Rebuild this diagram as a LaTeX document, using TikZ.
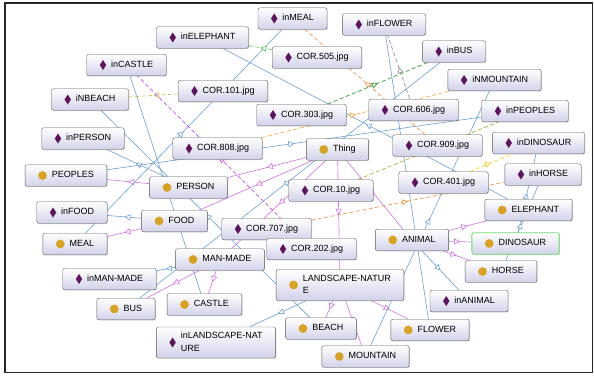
\documentclass[tikz,border=0pt]{standalone}
\usepackage{fontspec}
\setmainfont{Liberation Sans}
\usepackage{tikz}
\usetikzlibrary{arrows.meta,shadows,decorations.markings,backgrounds}

\definecolor{indcol}{RGB}{92,22,92}
\definecolor{clscol}{RGB}{215,162,40}
\definecolor{boxfill}{RGB}{210,210,234}
\definecolor{subcol}{RGB}{208,112,228}
\definecolor{instcol}{RGB}{108,160,208}
\definecolor{hlcol}{RGB}{110,220,110}
\definecolor{olivecol}{RGB}{200,190,100}
\definecolor{darkolive}{RGB}{175,170,60}
\definecolor{lgreencol}{RGB}{100,200,90}
\definecolor{greencol}{RGB}{50,150,50}
\definecolor{orangecol}{RGB}{235,150,80}
\definecolor{lorangecol}{RGB}{250,170,70}
\definecolor{graycol}{RGB}{150,150,150}
\definecolor{yellowcol}{RGB}{250,210,50}
\definecolor{violetcol}{RGB}{190,80,230}

\newcommand{\indicon}{\tikz[baseline=-2.3pt,sharp corners]\fill[indcol] (0pt,5pt)--(3.2pt,0pt)--(0pt,-5pt)--(-3.2pt,0pt)--cycle;}
\newcommand{\clsicon}{\tikz[baseline=-2.3pt,sharp corners]\fill[clscol] (0pt,0pt) circle (4.4pt);}
\newcommand{\ind}[1]{\indicon\hspace{5pt}#1}
\newcommand{\cls}[1]{\clsicon\hspace{5pt}#1}
\newcommand{\twolines}[2]{\begin{tabular}{@{}l@{}}#1\\#2\end{tabular}}

\begin{document}
\begin{tikzpicture}[x=1pt,y=-1pt]
\tikzset{box/.style = {draw=black!65, rounded corners=2pt, top color=white, bottom color=boxfill, minimum height=21.5pt, inner xsep=13pt, inner ysep=3pt, font=\fontsize{9}{12.5}\selectfont, drop shadow={shadow xshift=0.8pt, shadow yshift=-0.8pt, opacity=0.3}}}
\tikzset{midtip/.style = {postaction={decorate}, decoration={markings, mark=at position 0.5 with {\arrow{Triangle[length=6pt,width=6pt,fill=white]}}}}}
\tikzset{subcls/.style = {draw=subcol, line width=0.6pt, midtip}}
\tikzset{inst/.style = {draw=instcol, line width=0.6pt, midtip}}
\tikzset{prop/.style = {draw=#1, dash pattern=on 4pt off 2.5pt, line width=0.7pt, midtip}}
\useasboundingbox (0,0) rectangle (594,376);
% vertices
\node[box] (inmeal) at (292.5,18.5) {\ind{inMEAL}};
\node[box] (inflower) at (384,24.5) {\ind{inFLOWER}};
\node[box] (inelephant) at (202.5,37.5) {\ind{inELEPHANT}};
\node[box] (cor505) at (317,57.5) {\ind{COR.505.jpg}};
\node[box] (inbus) at (454,51.5) {\ind{inBUS}};
\node[box] (incastle) at (126.5,65) {\ind{inCASTLE}};
\node[box] (inmountain) at (494.5,80) {\ind{iNMOUNTAIN}};
\node[box] (cor101) at (223,91) {\ind{COR.101.jpg}};
\node[box] (inbeach) at (90,99.5) {\ind{iNBEACH}};
\node[box] (cor303) at (301.5,115) {\ind{COR.303.jpg}};
\node[box] (cor606) at (413.5,110) {\ind{COR.606.jpg}};
\node[box] (inpeoples) at (525,111) {\ind{inPEOPLES}};
\node[box] (inperson) at (83,138.5) {\ind{inPERSON}};
\node[box] (cor808) at (217.5,148.5) {\ind{COR.808.jpg}};
\node[box] (thing) at (337.5,149.5) {\cls{Thing}};
\node[box] (cor909) at (437.5,145.5) {\ind{COR.909.jpg}};
\node[box] (indino) at (538.5,143) {\ind{inDINOSAUR}};
\node[box] (peoples) at (66,175.5) {\cls{PEOPLES}};
\node[box] (person) at (188.5,187.5) {\cls{PERSON}};
\node[box] (cor10) at (331,190.5) {\ind{COR.10.jpg}};
\node[box] (cor401) at (443.5,182.5) {\ind{COR.401.jpg}};
\node[box] (inhorse) at (543,174.5) {\ind{inHORSE}};
\node[box] (infood) at (72,212.5) {\ind{inFOOD}};
\node[box] (food) at (174.5,221) {\cls{FOOD}};
\node[box] (elephant) at (528.5,210) {\cls{ELEPHANT}};
\node[box] (cor707) at (266.5,229) {\ind{COR.707.jpg}};
\node[box] (meal) at (75,244) {\cls{MEAL}};
\node[box] (cor202) at (311.5,249) {\ind{COR.202.jpg}};
\node[box] (animal) at (412,240) {\cls{ANIMAL}};
\node[box, draw=hlcol, line width=0.9pt] (dino) at (515.5,243.5) {\cls{DINOSAUR}};
\node[box] (manmade) at (220,259.5) {\cls{MAN-MADE}};
\node[box] (landscape) at (340,285) {\cls{\twolines{LANDSCAPE-NATUR}{E}}};
\node[box] (horse) at (501,271.5) {\cls{HORSE}};
\node[box] (inmanmade) at (109.5,279) {\ind{inMAN-MADE}};
\node[box] (inanimal) at (469,301) {\ind{inANIMAL}};
\node[box] (bus) at (126,309) {\cls{BUS}};
\node[box] (castle) at (204.5,304.5) {\cls{CASTLE}};
\node[box] (beach) at (321,328.5) {\cls{BEACH}};
\node[box] (flower) at (430,330) {\cls{FLOWER}};
\node[box] (inlandscape) at (216,342.5) {\ind{\twolines{inLANDSCAPE-NAT}{URE}}};
\node[box] (mountain) at (365.5,356.5) {\cls{MOUNTAIN}};

\begin{pgfonlayer}{background}
\draw[line width=1.6pt, black!85] (5,3) rectangle (592.5,372.5);
%subclass edges
\path (thing) edge[subcls] (person);
\path (thing) edge[subcls] (food);
\path (thing) edge[subcls] (manmade);
\path (thing) edge[subcls] (landscape);
\path (thing) edge[subcls] (animal);
\path (person) edge[subcls] (peoples);
\path (food) edge[subcls] (meal);
\path (manmade) edge[subcls] (bus);
\path (manmade) edge[subcls] (castle);
\path (landscape) edge[subcls] (beach);
\path (landscape) edge[subcls] (mountain);
\path (landscape) edge[subcls] (flower);
\path (animal) edge[subcls] (elephant);
\path (animal) edge[subcls] (dino);
\path (animal) edge[subcls] (horse);
%individuals
\path (meal) edge[inst] (inmeal);
\path (elephant) edge[inst] (inelephant);
\path (castle) edge[inst] (incastle);
\path (beach) edge[inst] (inbeach);
\path (person) edge[inst] (inperson);
\path (peoples) edge[inst] (inpeoples);
\path (food) edge[inst] (infood);
\path (manmade) edge[inst] (inmanmade);
\path (bus) edge[inst] (inbus);
\path (flower) edge[inst] (inflower);
\path (mountain) edge[inst] (inmountain);
\path (dino) edge[inst] (indino);
\path (horse) edge[inst] (inhorse);
\path (animal) edge[inst] (inanimal);
\path (landscape) edge[inst] (inlandscape);
%object properties
\path (cor101) edge[prop=olivecol] (inbeach);
\path (cor505) edge[prop=lgreencol] (inelephant);
\path (cor909) edge[prop=orangecol] (inmeal);
\path (cor303) edge[prop=greencol] (inbus);
\path (cor606) edge[prop=graycol] (inflower);
\path (cor808) edge[prop=lorangecol] (inmountain);
\path (cor10) edge[prop=darkolive] (inpeoples);
\path (cor401) edge[prop=yellowcol] (indino);
\path (cor707) edge[prop=orangecol] (inhorse);
\path (cor202) edge[prop=violetcol] (incastle);
\end{pgfonlayer}
\end{tikzpicture}
\end{document}
